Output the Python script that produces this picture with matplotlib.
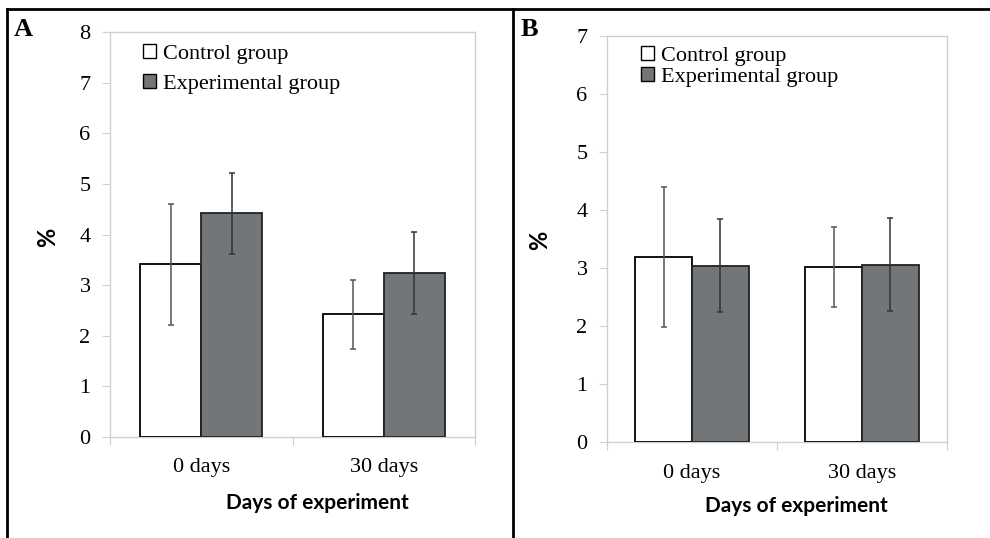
import matplotlib
matplotlib.use("Agg")
import matplotlib.pyplot as plt
from matplotlib.lines import Line2D
from matplotlib.patches import Rectangle
import numpy as np

categories = ["0 days", "30 days"]
series_names = ["Control group", "Experimental group"]

a_control = [3.41, 2.42]
a_control_err = [1.19, 0.69]
a_exp = [4.42, 3.23]
a_exp_err = [0.80, 0.81]

b_control = [3.19, 3.02]
b_control_err = [1.20, 0.69]
b_exp = [3.04, 3.06]
b_exp_err = [0.80, 0.80]

a_yticks = [0, 1, 2, 3, 4, 5, 6, 7, 8]
b_yticks = [0, 1, 2, 3, 4, 5, 6, 7]

W, H = 990, 538
fig = plt.figure(figsize=(W / 100, H / 100), dpi=100)

SERIF = ["Liberation Serif", "DejaVu Serif"]
SANS = ["Lato", "Open Sans", "DejaVu Sans"]
EXP_COLOR = "#737678"
GRID = "#d0d0d0"


def fig_rect(l, t, r, b):
    return [l / W, (H - b) / H, (r - l) / W, (b - t) / H]


def panel(rect, ctrl, ctrl_err, exp, exp_err, yticks, letter, letter_xy,
          pct_xy, xlabel_xy, leg_anchor, leg_spacing, xpad):
    ax = fig.add_axes(rect)
    x = np.arange(len(categories))
    w = 0.334
    ax.bar(x - w / 2, ctrl, w, color="white", edgecolor="black", linewidth=1.3,
           zorder=3)
    ax.bar(x + w / 2, exp, w, color=EXP_COLOR, edgecolor="#222222", linewidth=1.3,
           zorder=3)
    ax.errorbar(x - w / 2, ctrl, yerr=ctrl_err, fmt="none", ecolor="#555555",
                elinewidth=1.1, capsize=2.5, capthick=1.1, zorder=4)
    ax.errorbar(x + w / 2, exp, yerr=exp_err, fmt="none", ecolor="#333333",
                elinewidth=1.1, capsize=2.5, capthick=1.1, zorder=4)
    ax.set_xlim(-0.5, len(categories) - 0.5)
    ax.set_ylim(yticks[0], yticks[-1])
    ax.set_yticks(yticks)
    ax.set_yticklabels([str(t) for t in yticks], fontfamily=SERIF, fontsize=16)
    ax.tick_params(axis="y", length=6, color=GRID, pad=8)
    ax.set_xticks(np.arange(-0.5, len(categories), 1.0))
    ax.set_xticklabels([])
    ax.tick_params(axis="x", which="major", length=6, color=GRID, direction="out")
    ax.set_xticks(x, minor=True)
    ax.set_xticklabels(categories, minor=True, fontfamily=SERIF, fontsize=16)
    ax.tick_params(axis="x", which="minor", length=0, pad=xpad)
    for s in ax.spines.values():
        s.set_color(GRID)
        s.set_linewidth(1.0)
    handles = [Rectangle((0, 0), 1, 1, facecolor="white", edgecolor="black", lw=1.0),
               Rectangle((0, 0), 1, 1, facecolor=EXP_COLOR, edgecolor="black", lw=1.0)]
    ax.legend(handles, series_names, loc="upper left", bbox_to_anchor=leg_anchor,
              frameon=False, prop={"family": SERIF, "size": 16},
              handlelength=0.6, handleheight=0.6, handletextpad=0.3,
              borderpad=0, borderaxespad=0, labelspacing=leg_spacing)
    fig.text(letter_xy[0] / W, 1 - letter_xy[1] / H, letter, fontfamily=SERIF,
             fontweight="bold", fontsize=19, ha="left", va="center")
    fig.text(pct_xy[0] / W, 1 - pct_xy[1] / H, "%", fontfamily=SANS,
             fontweight="bold", fontsize=17, rotation=90, ha="center", va="center")
    fig.text(xlabel_xy[0] / W, 1 - xlabel_xy[1] / H, "Days of experiment",
             fontfamily=SANS, fontweight="bold", fontsize=15, ha="center",
             va="center")
    return ax


panel(fig_rect(110, 32, 475, 437), a_control, a_control_err, a_exp, a_exp_err,
      a_yticks, "A", (14, 30), (48, 237), (317, 503), (0.09, 0.97), 0.45, 15)
panel(fig_rect(607, 36, 947, 442), b_control, b_control_err, b_exp, b_exp_err,
      b_yticks, "B", (521, 30), (540, 240), (796, 506), (0.10, 0.975), 0.05, 16)

for xs, ys in [([7, W], [9, 9]), ([7, 7], [9, H]), ([513, 513], [9, H])]:
    fig.add_artist(Line2D([v / W for v in xs], [1 - v / H for v in ys],
                          color="black", linewidth=2.0))

fig.savefig("out.png", dpi=100)
